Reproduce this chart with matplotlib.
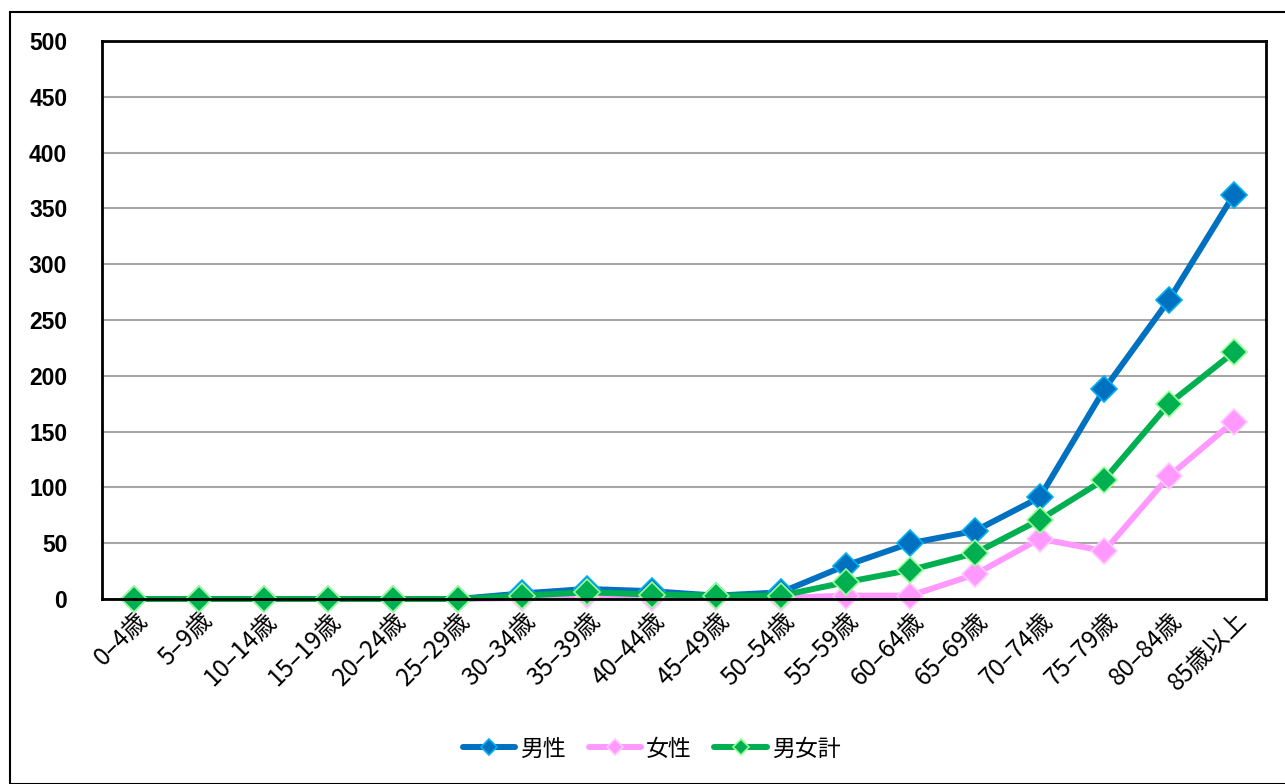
import matplotlib
matplotlib.use("Agg")
import matplotlib.pyplot as plt
from matplotlib.patches import Rectangle

categories = ["0–4歳", "5–9歳", "10–14歳", "15–19歳", "20–24歳", "25–29歳", "30–34歳",
              "35–39歳", "40–44歳", "45–49歳", "50–54歳", "55–59歳", "60–64歳", "65–69歳",
              "70–74歳", "75–79歳", "80–84歳", "85歳以上"]
male = [0, 0, 0, 0, 0, 0, 5, 9, 7, 3, 6, 30, 50, 61, 91, 188, 268, 362]
female = [0, 0, 0, 0, 0, 0, 1, 4, 1, 2, 1, 3, 3, 22, 54, 43, 110, 159]
total = [0, 0, 0, 0, 0, 0, 3, 6, 4, 3, 3, 15, 26, 41, 71, 107, 175, 221]
series_names = ["男性", "女性", "男女計"]
yticks = [0, 50, 100, 150, 200, 250, 300, 350, 400, 450, 500]

plt.rcParams['font.family'] = ['Noto Sans CJK JP', 'DejaVu Sans']

fig = plt.figure(figsize=(12.85, 7.84), dpi=100)
fig.patches.append(Rectangle((10/1285, 0), 1.0, 1 - 12/784, transform=fig.transFigure,
                             fill=False, edgecolor='black', linewidth=1.5, zorder=0))
ax = fig.add_axes([102/1285, 1 - 599/784, (1266-102)/1285, (599-41)/784])

x = list(range(len(categories)))
styles = [
    (male, "#0070C0", "#00B0F0"),
    (female, "#FF99FF", "#FFCCFF"),
    (total, "#00B050", "#99FF99"),
]
for (vals, col, edge), name in zip(styles, series_names):
    ax.plot(x, vals, color=col, linewidth=4.3, marker='D', markersize=13,
            markerfacecolor=col, markeredgecolor=edge, markeredgewidth=1.2,
            label=name, solid_capstyle='round', clip_on=False)

ax.set_xlim(-0.5, len(categories) - 0.5)
ax.set_ylim(0, 500)
ax.set_yticks(yticks)
ax.set_yticklabels([str(v) for v in yticks], fontfamily='Liberation Sans',
                   fontweight='bold', fontsize=16.5)
ax.set_xticks(x)
ax.set_xticklabels(categories, rotation=45, ha='right', rotation_mode='anchor',
                   fontsize=17.5)
ax.tick_params(axis='both', length=0)
ax.tick_params(axis='y', pad=25)
ax.tick_params(axis='x', pad=6)
ax.yaxis.grid(True, color='#A6A6A6', linewidth=1.5)
ax.set_axisbelow(True)
for s in ax.spines.values():
    s.set_linewidth(2)
    s.set_color('black')

fig.legend(loc='center', bbox_to_anchor=(0.507, 1 - 749/784), ncol=3, frameon=False,
           fontsize=16.5, handlelength=2.3, handletextpad=0.2, columnspacing=1.0,
           markerscale=0.6)

fig.savefig("out.png", dpi=100)
